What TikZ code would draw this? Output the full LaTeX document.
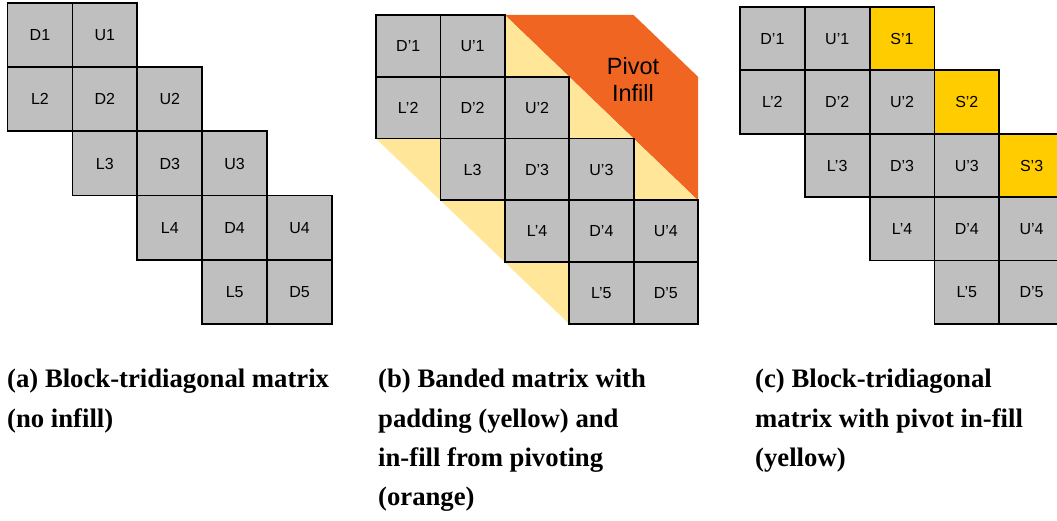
\documentclass[tikz,border=0pt]{standalone}
\usepackage{fontspec}
\setmainfont{Liberation Serif}
\newfontfamily\lab{Liberation Sans}
\definecolor{cellgray}{RGB}{191,191,191}
\definecolor{padyellow}{RGB}{255,230,153}
\definecolor{pivorange}{RGB}{241,101,34}
\definecolor{sgold}{RGB}{255,204,0}
\tikzset{
  cell/.style={draw=black, line width=1.8pt, fill=cellgray, inner sep=0pt,
    font=\lab\fontsize{16pt}{19pt}\selectfont},
  cella/.style={cell, minimum width=64.9pt, minimum height=64.2pt},
  cellb/.style={cell, minimum width=64.4pt, minimum height=61.8pt},
  cellc/.style={cell, minimum width=64.8pt, minimum height=63.4pt},
  scell/.style={cellc, fill=sgold},
  caption/.style={anchor=base west, inner sep=0pt,
    font=\fontsize{26.7pt}{32pt}\selectfont\bfseries},
  pivottext/.style={align=center, inner sep=0pt,
    font=\lab\fontsize{23.5pt}{27pt}\selectfont}
}
\begin{document}
\begin{tikzpicture}[x=1pt,y=-1pt]
\useasboundingbox (0,0) rectangle (1057,521);
\clip (0,0) rectangle (1057,521);
% ---------- panel (a)
\foreach \r/\c/\t/\n in {1/1/D1/aD1,1/2/U1/aU1,
  2/1/L2/aL2,2/2/D2/aD2,2/3/U2/aU2,
  3/2/L3/aL3,3/3/D3/aD3,3/4/U3/aU3,
  4/3/L4/aL4,4/4/D4/aD4,4/5/U4/aU4,
  5/4/L5/aL5,5/5/D5/aD5}
  \node[cella] (\n) at ({7.5+(\c-0.5)*64.9},{3+(\r-0.5)*64.2}) {\t};
% ---------- panel (b)
\fill[pivorange] (504.8,15) -- (633.6,15) -- (698,76.8) -- (698,200.4) -- cycle;
\fill[padyellow] (504.8,15) -- (504.8,76.8) -- (569.2,76.8) -- (569.2,138.6)
  -- (633.6,138.6) -- (633.6,200.4) -- (698,200.4) -- cycle;
\fill[padyellow] (376,138.6) -- (440.4,138.6) -- (440.4,200.4) -- (504.8,200.4)
  -- (504.8,262.2) -- (569.2,262.2) -- (569.2,324) -- cycle;
\node[pivottext] (pivot) at (633,79) {Pivot\\Infill};
\foreach \r/\c/\t/\n in {1/1/D’1/bD1,1/2/U’1/bU1,
  2/1/L’2/bL2,2/2/D’2/bD2,2/3/U’2/bU2,
  3/2/L3/bL3,3/3/D’3/bD3,3/4/U’3/bU3,
  4/3/L’4/bL4,4/4/D’4/bD4,4/5/U’4/bU4,
  5/4/L’5/bL5,5/5/D’5/bD5}
  \node[cellb] (\n) at ({376+(\c-0.5)*64.4},{15+(\r-0.5)*61.8}) {\t};
% ---------- panel (c)
\foreach \r/\c/\t/\n in {1/1/D’1/cD1,1/2/U’1/cU1,
  2/1/L’2/cL2,2/2/D’2/cD2,2/3/U’2/cU2,
  3/2/L’3/cL3,3/3/D’3/cD3,3/4/U’3/cU3,
  4/3/L’4/cL4,4/4/D’4/cD4,4/5/U’4/cU4,
  5/4/L’5/cL5,5/5/D’5/cD5}
  \node[cellc] (\n) at ({740+(\c-0.5)*64.8},{7+(\r-0.5)*63.4}) {\t};
\foreach \r/\c/\t/\n in {1/3/S’1/cS1,2/4/S’2/cS2,3/5/S’3/cS3}
  \node[scell] (\n) at ({740+(\c-0.5)*64.8},{7+(\r-0.5)*63.4}) {\t};
% ---------- captions
\node[caption] (capa1) at (7,387) {(a) Block-tridiagonal matrix};
\node[caption] (capa2) at (7,427) {(no infill)};
\node[caption] (capb1) at (378,387) {(b) Banded matrix with};
\node[caption] (capb2) at (378,427) {padding (yellow) and};
\node[caption] (capb3) at (378,466) {in-fill from pivoting};
\node[caption] (capb4) at (378,505) {(orange)};
\node[caption] (capc1) at (755,387) {(c) Block-tridiagonal};
\node[caption] (capc2) at (755,427) {matrix with pivot in-fill};
\node[caption] (capc3) at (755,466) {(yellow)};
\end{tikzpicture}
\end{document}
